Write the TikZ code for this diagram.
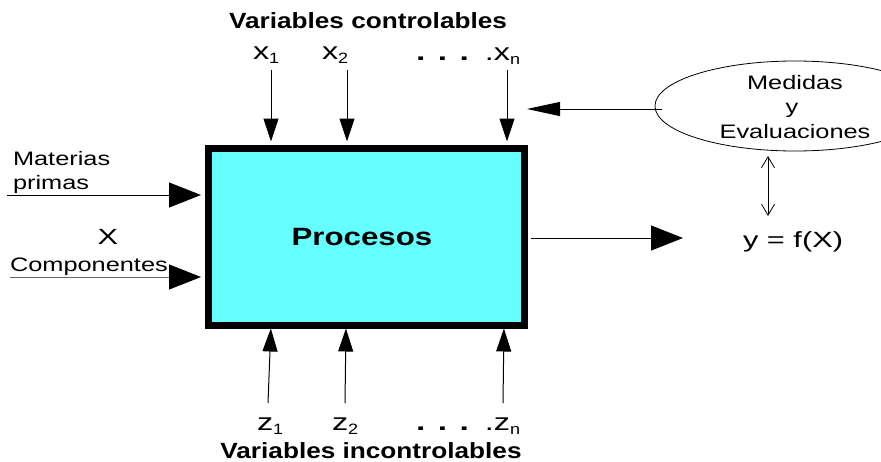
\documentclass[tikz,border=0pt]{standalone}
\usepackage{fontspec}
\setmainfont{Liberation Sans}
\usetikzlibrary{arrows.meta,shapes.geometric}

\definecolor{procfill}{HTML}{66FFFF}

% horizontally widened text
\newcommand\wide[2]{\scalebox{#1}[1]{#2}}
\newcommand\sub[1]{\raisebox{-4pt}{\fontsize{15}{15}\selectfont\wide{1.2}{#1}}}
\newcommand\dotrun{{\bfseries\wide{1.4}{. . .}}}

\tikzset{
  lbl/.style={inner sep=0pt, outer sep=0pt},
  txt/.style={lbl, font=\fontsize{19.5}{22}\selectfont},
  var/.style={lbl, font=\fontsize{24}{26}\selectfont},
  head/.style={lbl, font=\fontsize{22}{24}\selectfont\bfseries},
  feed/.style={line width=1pt, -{Triangle[length=23pt,width=15pt]}},
  inflow/.style={line width=1pt, -{Triangle[length=32pt,width=25pt,color=black]}},
  back/.style={line width=1pt, -{Triangle[length=33pt,width=14pt]}},
  twoway/.style={line width=0.8pt, {Straight Barb[length=11pt,width=13pt]}-{Straight Barb[length=11pt,width=13pt]}},
}

\begin{document}
\begin{tikzpicture}[x=1pt, y=-1pt]
\clip (0,0) rectangle (881,461);
\fill[white] (0,0) rectangle (881,461);

% the process block
\node[draw, line width=7pt, fill=procfill, minimum width=316pt, minimum height=177pt,
      inner sep=0pt, font=\fontsize{25}{27}\selectfont\bfseries] (proc) at (366,237)
      {\hspace*{-8pt}\wide{1.25}{Procesos}};

% controllable inputs
\node[head, anchor=base] (hc) at (368,28) {\wide{1.19}{Variables controlables}};
\node[var, anchor=base west] (x1) at (253,59) {\wide{1.35}{x}\sub{1}};
\node[var, anchor=base west] (x2) at (322,59) {\wide{1.35}{x}\sub{2}};
\node[var, anchor=base west] (xn) at (416,60) {\dotrun\hspace{16pt}\wide{1.35}{.x}\sub{n}};

\coordinate (tx1) at (271,70);
\coordinate (tx2) at (347,70);
\coordinate (txn) at (507,70);
\draw[feed, shorten >=3.5pt] (tx1) -- (tx1 |- proc.north);
\draw[feed, shorten >=3.5pt] (tx2) -- (tx2 |- proc.north);
\draw[feed, shorten >=3.5pt] (txn) -- (txn |- proc.north);

% uncontrollable inputs
\node[var, anchor=base west] (z1) at (257,430) {\wide{1.35}{z}\sub{1}};
\node[var, anchor=base west] (z2) at (332,430) {\wide{1.35}{z}\sub{2}};
\node[var, anchor=base west] (zn) at (416,430) {\dotrun\hspace{16pt}\wide{1.35}{.z}\sub{n}};
\node[head, anchor=base] (hi) at (371,458) {\wide{1.19}{Variables incontrolables}};

\coordinate (bz1) at (268,403);
\coordinate (bz2) at (345,403);
\coordinate (bzn) at (503,403);
\draw[feed, shorten >=3.5pt] (bz1) -- (271,325);
\draw[feed, shorten >=3.5pt] (bz2) -- (346,325);
\draw[feed, shorten >=3.5pt] (bzn) -- (504,325);

% material inputs
\node[txt, anchor=base west] (mat) at (13,165) {\wide{1.3}{Materias}};
\node[txt, anchor=base west] (pri) at (13,189) {\wide{1.3}{primas}};
\node[lbl, font=\fontsize{22}{24}\selectfont, anchor=base] (bigx) at (108,244) {\wide{1.4}{X}};
\node[txt, anchor=base west] (comp) at (10,271) {\wide{1.3}{Componentes}};

\coordinate (lm) at (7,195);
\coordinate (lc) at (10,277);
\draw[inflow, shorten >=3.5pt] (lm) -- (lm -| proc.west);
\draw[inflow, shorten >=3.5pt, draw=black!60] (lc) -- (lc -| proc.west);

% output
\node[lbl, font=\fontsize{22}{24}\selectfont, anchor=base west] (out) at (743,247) {\wide{1.4}{y = f(X)}};
\coordinate (ro) at (683,238);
\draw[inflow, shorten <=3.5pt] (proc.east |- ro) -- (ro);

% measurement and evaluation
\node[ellipse, draw, line width=0.8pt, minimum width=280pt, minimum height=90pt, inner sep=0pt] (eval) at (795,106) {};
\node[txt, anchor=base] (me1) at (795,89) {\wide{1.3}{Medidas}};
\node[txt, anchor=base] (me2) at (792,113) {\wide{1.3}{y}};
\node[txt, anchor=base] (me3) at (795,138) {\wide{1.3}{Evaluaciones}};

\coordinate (fb) at (527,109);
\draw[back] ([xshift=7pt]eval.west |- fb) -- (fb);

\coordinate (d1) at (768,156);
\coordinate (d2) at (768,216);
\draw[twoway] (d1) -- (d2);
\end{tikzpicture}
\end{document}
